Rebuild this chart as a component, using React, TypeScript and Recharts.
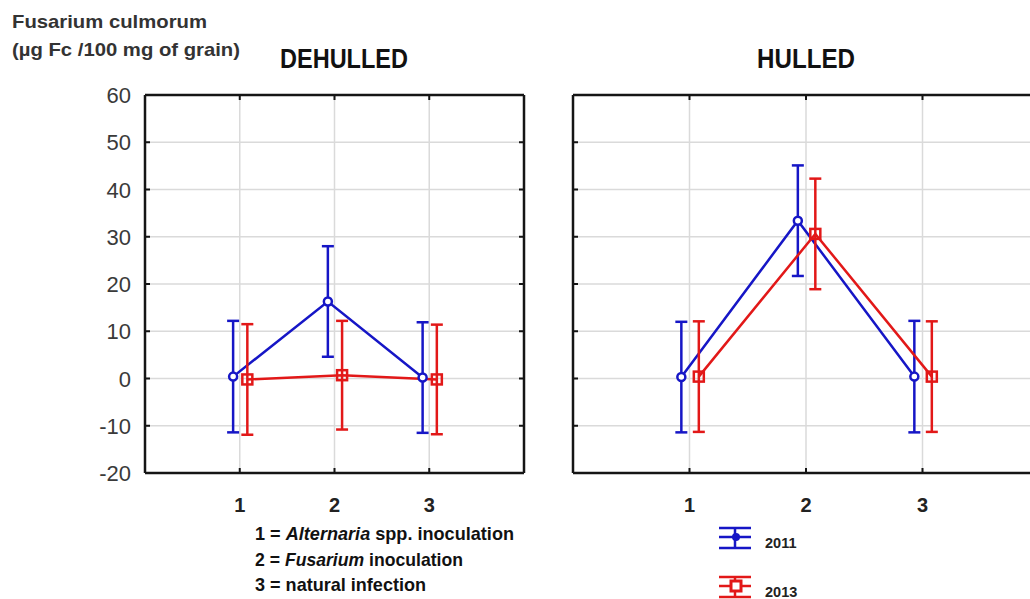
import { CartesianGrid, ErrorBar, Legend, Line, LineChart, XAxis, YAxis } from 'recharts';

const categories = [1, 2, 3];
const categoryItalic = ['Alternaria', 'Fusarium', ''];
const categoryRest = [' spp. inoculation', ' inoculation', 'natural infection'];
const years = ['2011', '2013'];
const yTicks = [-20, -10, 0, 10, 20, 30, 40, 50, 60];

// means and confidence half-widths
const dehulled2011 = [0.4, 16.3, 0.2];
const dehulled2011Ci = [11.8, 11.7, 11.7];
const dehulled2013 = [-0.2, 0.7, -0.2];
const dehulled2013Ci = [11.7, 11.5, 11.6];
const hulled2011 = [0.3, 33.4, 0.4];
const hulled2011Ci = [11.7, 11.7, 11.8];
const hulled2013 = [0.4, 30.6, 0.4];
const hulled2013Ci = [11.7, 11.7, 11.7];

const BLUE = '#1616c6';
const RED = '#e21818';
const AXIS = '#151515';
const FONT = '"Liberation Sans", Arial, sans-serif';
const MARK = 5;

const toPoints = (means: number[], ci: number[], shift: number) =>
  categories.map((c, i) => ({ x: c + shift, y: means[i], err: ci[i] }));

const circleDot = (color: string) => (p: any) => (
  <circle key={`c${p.index}`} cx={p.cx} cy={p.cy} r={4} fill="#fff" stroke={color} strokeWidth={2.5} />
);
const squareDot = (color: string) => (p: any) => (
  <rect key={`s${p.index}`} x={p.cx - 5} y={p.cy - 5} width={10} height={10} fill="none" stroke={color} strokeWidth={2.5} />
);

// tick marks point inward, labels stay outside
const bottomTick = (p: any) => (
  <g>
    <line x1={p.x} x2={p.x} y1={p.y} y2={p.y - MARK} stroke={AXIS} strokeWidth={2} />
    <text x={p.x} y={p.y + 39} textAnchor="middle" fontFamily={FONT} fontWeight="bold" fontSize={20} fill="#222">
      {p.payload.value}
    </text>
  </g>
);
const topTick = (p: any) => <line x1={p.x} x2={p.x} y1={p.y} y2={p.y + MARK} stroke={AXIS} strokeWidth={2} />;
const leftTick = (labels: boolean) => (p: any) => (
  <g>
    <line x1={p.x} x2={p.x + MARK} y1={p.y} y2={p.y} stroke={AXIS} strokeWidth={2} />
    {labels && (
      <text x={p.x - 14} y={p.y + 8} textAnchor="end" fontFamily={FONT} fontSize={22} fill="#3a3a3a">
        {p.payload.value}
      </text>
    )}
  </g>
);
const rightTick = (p: any) => <line x1={p.x} x2={p.x - MARK} y1={p.y} y2={p.y} stroke={AXIS} strokeWidth={2} />;

function YearLegend(props: any) {
  const items = props.payload ?? [];
  return (
    <div style={{ position: 'relative', width: 110, height: 75 }}>
      {items.map((it: any, i: number) => (
        <svg key={it.value} width={110} height={24} style={{ position: 'absolute', left: 0, top: i * 49, overflow: 'visible' }}>
          <line x1={0} x2={32} y1={1} y2={1} stroke={it.color} strokeWidth={2.5} />
          <line x1={0} x2={32} y1={10} y2={10} stroke={it.color} strokeWidth={2.5} />
          <line x1={0} x2={32} y1={21} y2={21} stroke={it.color} strokeWidth={2.5} />
          <line x1={16} x2={16} y1={1} y2={21} stroke={it.color} strokeWidth={2.5} />
          {it.type === 'circle' ? (
            <circle cx={17} cy={10} r={4} fill={it.color} />
          ) : (
            <rect x={12} y={5} width={10} height={10} fill="#fff" stroke={it.color} strokeWidth={3} />
          )}
          <text x={46} y={21} fontFamily={FONT} fontWeight="bold" fontSize={14.5} fill="#222">
            {it.value}
          </text>
        </svg>
      ))}
    </div>
  );
}

type PanelProps = {
  left: number;
  width: number;
  yWidth: number;
  a: number[];
  aCi: number[];
  b: number[];
  bCi: number[];
  labels: boolean;
  legend?: boolean;
};

function Panel({ left, width, yWidth, a, aCi, b, bCi, labels, legend }: PanelProps) {
  const axisLine = { stroke: AXIS, strokeWidth: 2.5 };
  return (
    <div style={{ position: 'absolute', left, top: 0 }}>
      <LineChart width={width} height={599} margin={{ top: 0, right: 0, bottom: 0, left: 0 }}>
        <CartesianGrid stroke="#dadada" strokeWidth={1.5} />
        <XAxis
          type="number"
          dataKey="x"
          domain={[0, 4]}
          ticks={categories}
          interval={0}
          allowDataOverflow
          height={126}
          tickSize={0}
          tickMargin={0}
          tickLine={false}
          axisLine={axisLine}
          tick={bottomTick}
        />
        <XAxis
          xAxisId="top"
          orientation="top"
          type="number"
          dataKey="x"
          domain={[0, 4]}
          ticks={categories}
          interval={0}
          allowDataOverflow
          height={95}
          tickSize={0}
          tickMargin={0}
          tickLine={false}
          axisLine={axisLine}
          tick={topTick}
        />
        <YAxis
          type="number"
          domain={[-20, 60]}
          ticks={yTicks}
          interval={0}
          allowDataOverflow
          width={yWidth}
          tickSize={0}
          tickMargin={0}
          tickLine={false}
          axisLine={axisLine}
          tick={leftTick(labels)}
        />
        <YAxis
          yAxisId="right"
          orientation="right"
          type="number"
          domain={[-20, 60]}
          ticks={yTicks}
          interval={0}
          allowDataOverflow
          width={16}
          tickSize={0}
          tickMargin={0}
          tickLine={false}
          axisLine={axisLine}
          tick={rightTick}
        />
        <Line
          data={toPoints(a, aCi, -0.07)}
          dataKey="y"
          name={years[0]}
          legendType="circle"
          stroke={BLUE}
          strokeWidth={2.5}
          dot={circleDot(BLUE)}
          activeDot={false}
          isAnimationActive={false}
        >
          <ErrorBar dataKey="err" direction="y" width={6} stroke={BLUE} strokeWidth={2.5} isAnimationActive={false} />
        </Line>
        <Line
          data={toPoints(b, bCi, 0.08)}
          dataKey="y"
          name={years[1]}
          legendType="square"
          stroke={RED}
          strokeWidth={2.5}
          dot={squareDot(RED)}
          activeDot={false}
          isAnimationActive={false}
        >
          <ErrorBar dataKey="err" direction="y" width={6} stroke={RED} strokeWidth={2.5} isAnimationActive={false} />
        </Line>
        {legend && (
          <Legend
            layout="horizontal"
            verticalAlign="middle"
            align="center"
            content={<YearLegend />}
            wrapperStyle={{ left: 159, top: 527, width: 110, height: 75, bottom: 'auto', right: 'auto' }}
          />
        )}
      </LineChart>
    </div>
  );
}

export default function App() {
  return (
    <div style={{ position: 'absolute', left: 0, top: 0, width: 1030, height: 599, overflow: 'hidden', background: '#fff' }}>
      <Panel left={0} width={540} yWidth={145} a={dehulled2011} aCi={dehulled2011Ci} b={dehulled2013} bCi={dehulled2013Ci} labels />
      <Panel left={560} width={495} yWidth={13} a={hulled2011} aCi={hulled2011Ci} b={hulled2013} bCi={hulled2013Ci} labels={false} legend />
      <svg width={1030} height={599} style={{ position: 'absolute', left: 0, top: 0, pointerEvents: 'none' }}>
        <g fontFamily={FONT} fontWeight="bold">
          <text x={12} y={28} fontSize={19} fill="#333" textLength={195} lengthAdjust="spacingAndGlyphs">
            Fusarium culmorum
          </text>
          <text x={12} y={56} fontSize={19} fill="#333" textLength={228} lengthAdjust="spacingAndGlyphs">
            (µg Fc /100 mg of grain)
          </text>
          <text x={280} y={68} fontSize={27} fill="#111" textLength={128} lengthAdjust="spacingAndGlyphs">
            DEHULLED
          </text>
          <text x={757} y={68} fontSize={27} fill="#111" textLength={98} lengthAdjust="spacingAndGlyphs">
            HULLED
          </text>
          {categories.map((c, i) => (
            <text
              key={c}
              x={255}
              y={540 + i * 25.5}
              fontSize={19}
              fill="#111"
              textLength={[259, 208, 171][i]}
              lengthAdjust="spacingAndGlyphs"
            >
              {`${c} = `}
              {categoryItalic[i] && <tspan fontStyle="italic">{categoryItalic[i]}</tspan>}
              {categoryRest[i]}
            </text>
          ))}
        </g>
      </svg>
    </div>
  );
}
